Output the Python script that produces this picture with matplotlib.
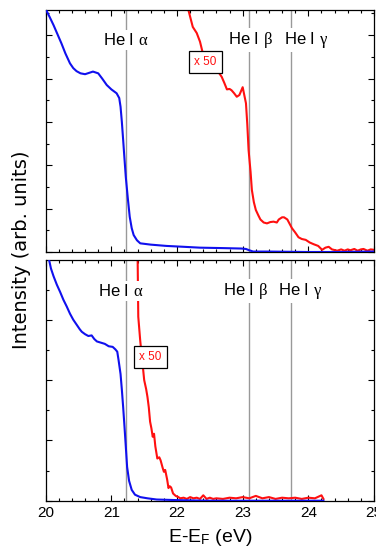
import matplotlib
matplotlib.use("Agg")
import matplotlib.pyplot as plt
from matplotlib.ticker import MultipleLocator, NullFormatter

plt.rcParams['font.family'] = ['Liberation Sans', 'DejaVu Sans']
plt.rcParams['mathtext.fontset'] = 'custom'
plt.rcParams['mathtext.rm'] = 'Liberation Sans'
plt.rcParams['mathtext.it'] = 'Liberation Serif'
plt.rcParams['mathtext.bf'] = 'Liberation Sans:bold'

# ---- data: top panel ----
top_blue_x = [20.0, 20.06, 20.12, 20.18, 20.24, 20.30, 20.37, 20.42, 20.47, 20.53, 20.6, 20.66, 20.72, 20.8,
              20.86, 20.93, 21.0, 21.08, 21.12, 21.14, 21.16, 21.18, 21.2, 21.22, 21.25, 21.28, 21.31, 21.34,
              21.39, 21.44, 21.6, 21.84, 22.1, 22.35, 22.7, 22.98, 23.05, 23.1, 23.16, 23.4, 24.0, 24.5, 25.0]
top_blue_y = [5.60, 5.42, 5.23, 5.02, 4.81, 4.58, 4.35, 4.24, 4.17, 4.12, 4.10, 4.13, 4.16, 4.12,
              4.00, 3.85, 3.75, 3.66, 3.55, 3.35, 3.00, 2.58, 2.15, 1.73, 1.25, 0.81, 0.55, 0.39,
              0.27, 0.20, 0.17, 0.14, 0.12, 0.10, 0.09, 0.08, 0.07, 0.04, 0.01, 0.01, 0.0, 0.0, 0.01]

top_red_x = [22.17, 22.24, 22.30, 22.35, 22.40, 22.50, 22.58, 22.63, 22.68, 22.72, 22.76, 22.80, 22.83, 22.87,
             22.91, 22.95, 23.00, 23.05, 23.07, 23.09, 23.12, 23.14, 23.17, 23.20, 23.24, 23.27, 23.32,
             23.37, 23.42, 23.47, 23.52, 23.55, 23.60, 23.63, 23.68, 23.75, 23.80, 23.85, 23.90, 23.96,
             24.02, 24.08, 24.15, 24.21, 24.26, 24.31, 24.36, 24.44, 24.5, 24.55, 24.6, 24.64, 24.7, 24.75,
             24.8, 24.84, 24.9, 24.95, 25.0]
top_red_y = [5.60, 5.19, 5.05, 4.85, 4.54, 4.35, 4.20, 4.15, 4.04, 3.90, 3.75, 3.76, 3.73, 3.66,
             3.58, 3.62, 3.80, 3.43, 2.95, 2.35, 1.85, 1.43, 1.15, 0.97, 0.84, 0.75, 0.68,
             0.66, 0.69, 0.70, 0.68, 0.75, 0.80, 0.80, 0.75, 0.55, 0.45, 0.34, 0.30, 0.28,
             0.22, 0.18, 0.14, 0.05, 0.10, 0.12, 0.06, 0.03, 0.06, 0.03, 0.06, 0.04, 0.07, 0.03,
             0.06, 0.07, 0.03, 0.06, 0.05]

# ---- data: bottom panel ----
bot_blue_x = [20.04, 20.08, 20.12, 20.17, 20.22, 20.27, 20.32, 20.37, 20.42, 20.47, 20.52, 20.55, 20.6,
              20.65, 20.7, 20.74, 20.78, 20.84, 20.9, 20.96, 21.02, 21.06, 21.09, 21.11, 21.14, 21.16,
              21.18, 21.20, 21.22, 21.24, 21.27, 21.31, 21.36, 21.44, 21.55, 21.69, 22.0, 22.5, 23.0,
              23.5, 24.0, 24.23]
bot_blue_y = [4.05, 3.85, 3.72, 3.58, 3.46, 3.33, 3.22, 3.10, 3.00, 2.92, 2.84, 2.80, 2.76,
              2.73, 2.74, 2.68, 2.64, 2.62, 2.60, 2.56, 2.55, 2.51, 2.47, 2.33, 2.10, 1.84,
              1.55, 1.23, 0.90, 0.56, 0.33, 0.18, 0.10, 0.06, 0.04, 0.02, 0.01, 0.0, 0.0,
              0.0, 0.0, 0.0]

bot_red_x = [21.40, 21.41, 21.44, 21.47, 21.50, 21.53, 21.55, 21.57, 21.59, 21.61, 21.63, 21.65, 21.67,
             21.70, 21.73, 21.75, 21.78, 21.80, 21.82, 21.85, 21.87, 21.89, 21.91, 21.94, 21.98, 22.02,
             22.05, 22.1, 22.15, 22.2, 22.25, 22.3, 22.35, 22.4, 22.45, 22.5, 22.55, 22.6, 22.7, 22.8,
             22.9, 23.0, 23.1, 23.2, 23.3, 23.4, 23.5, 23.6, 23.7, 23.8, 23.9, 24.0, 24.1, 24.2, 24.23]
bot_red_y = [4.05, 3.05, 2.65, 2.33, 2.00, 1.85, 1.72, 1.55, 1.31, 1.20, 1.06, 1.11, 0.90,
             0.70, 0.72, 0.67, 0.55, 0.48, 0.51, 0.35, 0.21, 0.24, 0.22, 0.12, 0.08, 0.06,
             0.04, 0.05, 0.03, 0.06, 0.04, 0.05, 0.03, 0.09, 0.03, 0.05, 0.03, 0.04, 0.03, 0.05,
             0.04, 0.06, 0.04, 0.08, 0.04, 0.06, 0.03, 0.05, 0.04, 0.05, 0.03, 0.05, 0.04, 0.09, 0.03]

lines_x = [21.22, 23.09, 23.74]
line_labels = ['He I $\\alpha$', 'He I $\\beta$', 'He I $\\gamma$']
top_label_x = [21.22, 23.12, 23.96]
bot_label_x = [21.15, 23.04, 23.87]
xtick_vals = [20, 21, 22, 23, 24, 25]

fig = plt.figure(figsize=(3.76, 5.47), dpi=100)
ax1 = fig.add_axes([0.1215, 0.5393, 0.8732, 0.4424])
ax2 = fig.add_axes([0.1215, 0.0846, 0.8732, 0.4401])

blue = '#1010ee'
red = '#ff1010'

def style(ax, ymax):
    ax.set_xlim(20, 25)
    ax.set_ylim(0, ymax)
    ax.set_xticks(xtick_vals)
    ax.xaxis.set_minor_locator(MultipleLocator(0.2))
    ax.yaxis.set_major_locator(MultipleLocator(1))
    ax.yaxis.set_minor_locator(MultipleLocator(0.5))
    ax.yaxis.set_major_formatter(NullFormatter())
    ax.tick_params(which='both', direction='in', top=True, right=True, width=0.8)
    ax.tick_params(which='major', length=4.5)
    ax.tick_params(which='minor', length=2.5)
    ax.tick_params(axis='x', labelsize=11, pad=4)
    for s in ax.spines.values():
        s.set_linewidth(0.9)

style(ax1, 5.58)
style(ax2, 3.99)
ax1.xaxis.set_major_formatter(NullFormatter())

for x in lines_x:
    ax1.axvline(x, color='#999999', lw=1.0, zorder=1)
    ax2.axvline(x, color='#999999', lw=1.0, zorder=1)

ax1.plot(top_blue_x, top_blue_y, color=blue, lw=1.5, zorder=3)
ax1.plot(top_red_x, top_red_y, color=red, lw=1.5, zorder=2)
ax2.plot(bot_red_x, bot_red_y, color=red, lw=1.5, zorder=2)
ax2.plot(bot_blue_x, bot_blue_y, color=blue, lw=1.5, zorder=3)

for lx, lab in zip(top_label_x, line_labels):
    ax1.text(lx, 4.88, lab, ha='center', va='center', fontsize=12, zorder=4,
             bbox=dict(facecolor='white', edgecolor='none', pad=1.5))
for lx, lab in zip(bot_label_x, line_labels):
    ax2.text(lx, 3.47, lab, ha='center', va='center', fontsize=12, zorder=4,
             bbox=dict(facecolor='white', edgecolor='none', pad=1.5))

ax1.text(22.43, 4.38, 'x 50', color=red, fontsize=8.5, ha='center', va='center', zorder=5,
         bbox=dict(facecolor='white', edgecolor='black', lw=0.9, boxstyle='square,pad=0.45'))
ax2.text(21.59, 2.38, 'x 50', color=red, fontsize=8.5, ha='center', va='center', zorder=5,
         bbox=dict(facecolor='white', edgecolor='black', lw=0.9, boxstyle='square,pad=0.45'))

ax2.set_xlabel('E-E$_\\mathrm{F}$ (eV)', fontsize=14, labelpad=5)
fig.text(0.058, 0.543, 'Intensity (arb. units)', rotation=90, fontsize=14, ha='center', va='center',
         family=['DejaVu Sans'])

fig.savefig('out.png', dpi=100)
